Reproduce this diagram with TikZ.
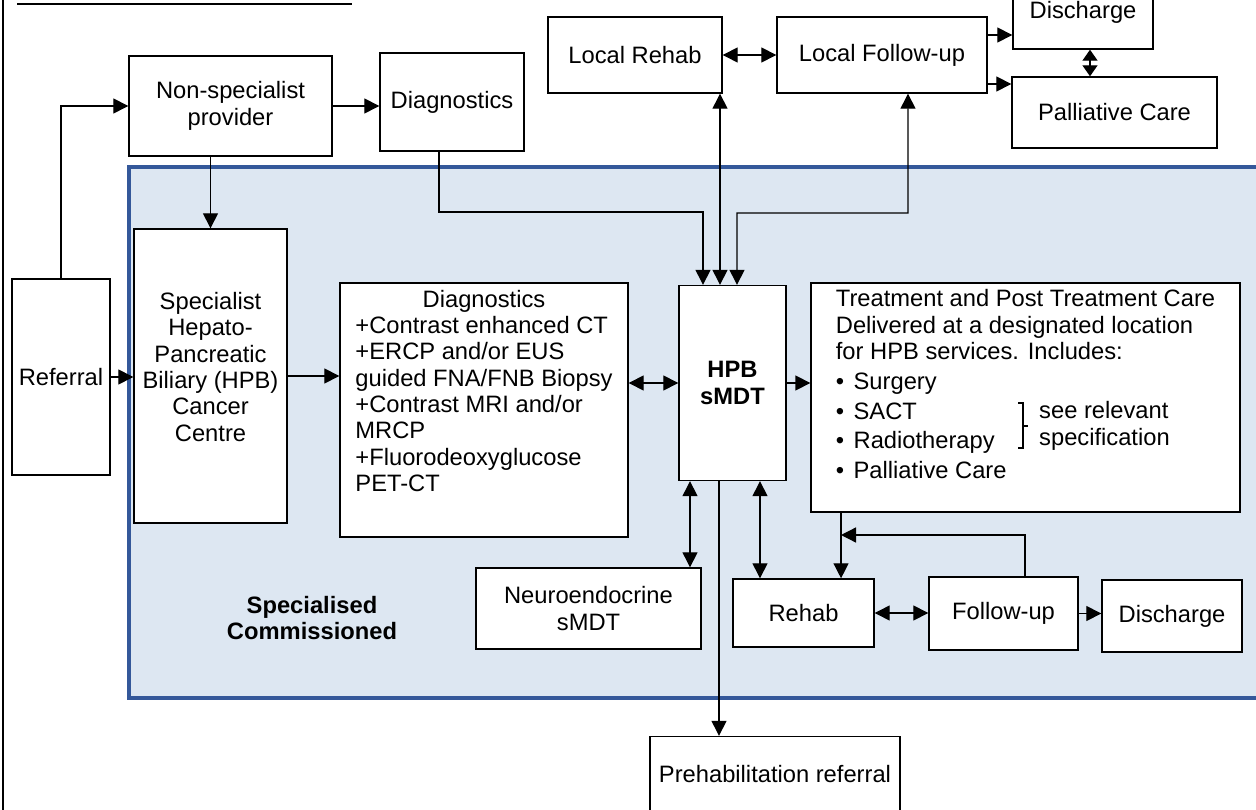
\documentclass[tikz,border=0pt]{standalone}
\usepackage{fontspec}
\setmainfont{Liberation Sans}
\usetikzlibrary{arrows.meta}

\definecolor{regionfill}{HTML}{DDE7F2}
\definecolor{regionline}{HTML}{34589A}

\begin{document}
\begin{tikzpicture}[x=0.02cm, y=-0.02cm,
  font=\fontsize{13.5}{15}\selectfont,
  box/.style={draw, fill=white, line width=0.8pt, align=center, inner sep=2pt},
  link/.style={line width=0.75pt, -{Triangle[length=0.3cm, width=0.3cm]}},
  dlink/.style={line width=0.75pt, {Triangle[length=0.3cm, width=0.3cm]}-{Triangle[length=0.3cm, width=0.3cm]}},
  slink/.style={line width=0.75pt, {Triangle[length=0.22cm, width=0.3cm]}-{Triangle[length=0.22cm, width=0.3cm]}}]

\path [use as bounding box] (0,0) rectangle (1256,810);

% FRAME
\draw [line width=1.6pt] (3,0) -- (3,810);
\draw [line width=1.2pt] (17,4) -- (352,4);

% REGION
\filldraw [fill=regionfill, draw=regionline, line width=2pt] (129,167) rectangle (1270,698);
\node [font=\fontsize{13.5}{15}\selectfont\bfseries, align=center] (region) at (312,618) {Specialised\\Commissioned};

% BOXES
\node [box, minimum width=4.06cm, minimum height=2cm] (nonspec) at (230.5,106) {Non-specialist\\provider};
\node [box, minimum width=2.88cm, minimum height=1.96cm] (diagtop) at (452,102) {Diagnostics};
\node [box, minimum width=3.48cm, minimum height=1.52cm] (localrehab) at (635,55) {Local Rehab};
\node [box, minimum width=4.2cm, minimum height=1.52cm] (localfu) at (882,55) {Local Follow-up};
\node [box, minimum width=2.8cm, minimum height=1.48cm] (dischtop) at (1083,12) {Discharge};
\node [box, minimum width=4.1cm, minimum height=1.42cm] (palltop) at (1114.5,112.5) {Palliative Care};
\node [box, minimum width=1.96cm, minimum height=3.92cm] (referral) at (61,377) {Referral};
\node [box, minimum width=3.06cm, minimum height=5.88cm] (specialist) at (210.5,376)
  {\raisebox{0.12cm}[\height][\depth]{\begin{tabular}{@{}c@{}}
   Specialist\\Hepato-\\Pancreatic\\Biliary (HPB)\\Cancer\\Centre\end{tabular}}};
\node [box, minimum width=5.76cm, minimum height=5.08cm] (diagbig) at (484,410)
  {\raisebox{0.32cm}[\height][\depth]{\begin{tabular}{@{}l@{}}
   \multicolumn{1}{@{}c@{}}{Diagnostics}\\
   +Contrast enhanced CT\\
   +ERCP and/or EUS\\
   guided FNA/FNB Biopsy\\
   +Contrast MRI and/or\\
   MRCP\\
   +Fluorodeoxyglucose\\
   PET-CT
   \end{tabular}}};
\node [box, minimum width=2.14cm, minimum height=3.9cm, font=\fontsize{13.5}{15}\selectfont\bfseries] (hpb) at (732.5,383) {HPB\\sMDT};
\node [box, minimum width=8.58cm, minimum height=4.58cm] (treat) at (1025.5,397.5)
  {\raisebox{0.2cm}[\height][\depth]{\begin{tabular}{@{}l@{}}
   Treatment and Post Treatment Care\\
   Delivered at a designated location\\
   for HPB services. Includes:\\[2pt]
   \textbullet\hspace{0.4em}Surgery\\[2pt]
   \textbullet\hspace{0.4em}SACT\\[2pt]
   \textbullet\hspace{0.4em}Radiotherapy\\[2pt]
   \textbullet\hspace{0.4em}Palliative Care
   \end{tabular}}};
\node [box, minimum width=4.5cm, minimum height=1.62cm] (neuro) at (588.5,608.5) {Neuroendocrine\\sMDT};
\node [box, minimum width=2.82cm, minimum height=1.36cm] (rehab) at (803.5,613) {Rehab};
\node [box, minimum width=2.98cm, minimum height=1.46cm] (followup) at (1003.5,613.5) {Follow-up};
\node [box, minimum width=2.8cm, minimum height=1.44cm] (dischbot) at (1172,616) {Discharge};
\node [box, minimum width=5.0cm, minimum height=1.5cm] (prehab) at (775,774) {Prehabilitation referral};

% BRACKET
\draw [line width=0.6pt] (1018,403) -- (1023,403) -- (1023,448) -- (1018,448) (1023,426) -- (1028,426);
\node [anchor=west, align=left] (seespec) at (1033,426) {see relevant\\specification};

% BENDS
\coordinate (bendA) at (703,212);
\coordinate (bendC) at (737,213);
\coordinate (bendD) at (841,535);

% LINKS TOP
\draw [link] (referral.north) |- (nonspec.west);
\draw [link] (nonspec.east) -- (nonspec.east -| diagtop.west);
\draw [link] (nonspec.south -| specialist.north) -- (specialist.north);
\draw [link] (referral.east) -- (referral.east -| specialist.west);
\draw [link] (specialist.east) -- (specialist.east -| diagbig.west);
\draw [dlink] (diagbig.east |- hpb.west) -- (hpb.west);
\draw [link] (hpb.east) -- (hpb.east -| treat.west);
\draw [link] ([xshift=-0.26cm]diagtop.south) |- (bendA) -- (bendA |- hpb.north);
\draw [dlink] ([xshift=-0.25cm]hpb.north) -- ([xshift=-0.25cm]hpb.north |- localrehab.south);
\draw [dlink] ([xshift=0.09cm]hpb.north) -- (bendC) -| ([xshift=0.52cm]localfu.south);
\draw [dlink] (localrehab.east) -- (localrehab.east -| localfu.west);
\draw [link] ([yshift=0.4cm]localfu.east) -- ([yshift=0.4cm]localfu.east -| dischtop.west);
\draw [link] ([yshift=-0.58cm]localfu.east) -- ([yshift=-0.58cm]localfu.east -| palltop.west);
\draw [slink] ([xshift=0.14cm]dischtop.south) -- ([xshift=0.14cm]dischtop.south |- palltop.north);

% LINKS BOTTOM
\draw [dlink] ([xshift=-0.85cm]hpb.south) -- ([xshift=-0.85cm]hpb.south |- neuro.north);
\draw [link] ([xshift=-0.27cm]hpb.south) -- ([xshift=-0.27cm]hpb.south |- prehab.north);
\draw [dlink] ([xshift=0.55cm]hpb.south) -- ([xshift=0.55cm]hpb.south |- rehab.north);
\draw [link] ([xshift=-3.69cm]treat.south) -- ([xshift=-3.69cm]treat.south |- rehab.north);
\draw [link] ([xshift=0.43cm]followup.north) |- (bendD);
\draw [dlink] (rehab.east) -- (rehab.east -| followup.west);
\draw [link] (followup.east) -- (followup.east -| dischbot.west);

\end{tikzpicture}
\end{document}
